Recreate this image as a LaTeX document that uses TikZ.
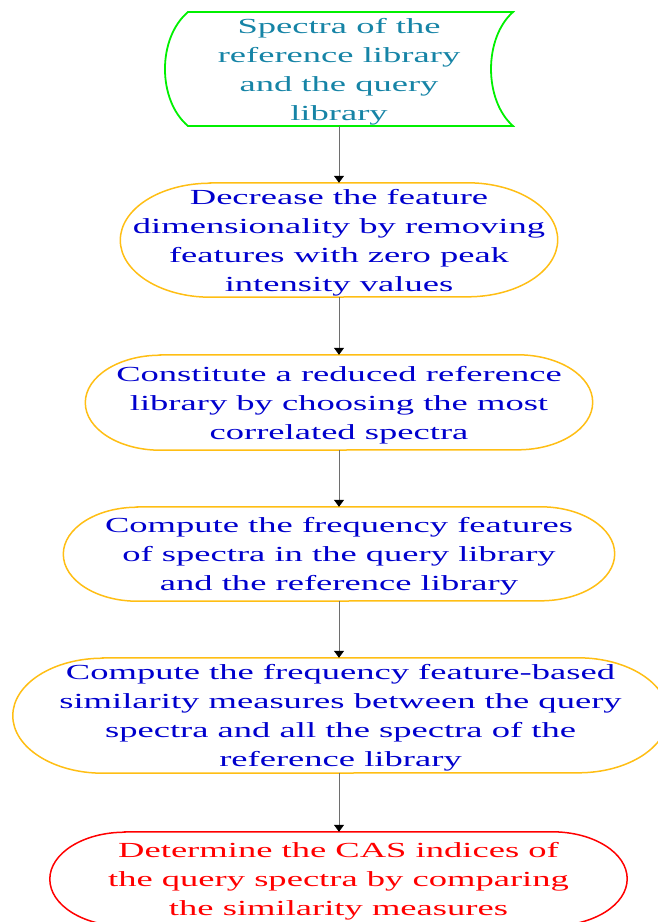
\documentclass[tikz,border=0pt]{standalone}
\usepackage{fontspec}
\setmainfont{Liberation Serif}[FakeStretch=1.7]
\usetikzlibrary{arrows.meta}
\definecolor{srcgreen}{RGB}{0,240,0}
\definecolor{srctext}{RGB}{22,132,166}
\definecolor{boxorange}{RGB}{255,190,20}
\definecolor{txtblue}{RGB}{0,0,205}
\definecolor{endred}{RGB}{255,0,0}
\definecolor{linegray}{RGB}{110,110,110}
% terminal-like outline with elliptical ends round node #1
% #2 = horizontal radius of the ends, #3 = vertical radius, #4 = draw options
\newcommand{\pillframe}[4]{%
  \draw[#4] ([xshift=#2pt]#1.north west) -- ([xshift=-#2pt]#1.north east)
    arc[start angle=90,end angle=-90,x radius=#2pt,y radius=#3pt]
    -- ([xshift=#2pt]#1.south west)
    arc[start angle=270,end angle=90,x radius=#2pt,y radius=#3pt] -- cycle;}
\begin{document}
\begin{tikzpicture}[x=1pt,y=-1pt,
  every node/.style={font=\fontsize{21.5}{29}\selectfont, align=center, inner sep=0pt},
  frame/.style={rectangle, minimum width=#1},
  steptext/.style={text=txtblue},
  orangeline/.style={draw=boxorange, line width=1.5pt},
  redline/.style={draw=endred, line width=1.5pt},
  flow/.style={draw=linegray, line width=0.8pt,
    -{Triangle[width=10pt,length=7pt,color=black]}}]
\useasboundingbox (0,0) rectangle (658,922);

% stored-data shape for the input spectra
\draw[srcgreen, line width=1.8pt]
  (188,12) -- (513,12)
  .. controls (483.7,38) and (483.7,100) .. (513,126)
  -- (188,126)
  .. controls (157.3,100) and (157.3,38) .. (188,12) -- cycle;
\node[frame=325pt, minimum height=114pt] (src) at (339,69) {};
\node[text=srctext] (src-t) at (339,71.5)
  {Spectra of the\\reference library\\and the query\\library};

% processing steps
\node[frame=437pt, minimum height=114pt] (reduce) at (339,240) {};
\node[steptext] (reduce-t) at (339,242.5)
  {Decrease the feature\\dimensionality by removing\\features with zero peak\\intensity values};
\pillframe{reduce}{90}{57}{orangeline}

\node[frame=507pt, minimum height=95pt] (library) at (339,402.5) {};
\node[steptext] (library-t) at (339,405)
  {Constitute a reduced reference\\library by choosing the most\\correlated spectra};
\pillframe{library}{75}{47.5}{orangeline}

\node[frame=551pt, minimum height=94pt] (freq) at (339,554) {};
\node[steptext] (freq-t) at (339,556.5)
  {Compute the frequency features\\of spectra in the query library\\and the reference library};
\pillframe{freq}{74}{47}{orangeline}

\node[frame=655pt, minimum height=115pt] (sim) at (340.5,715.5) {};
\node[steptext] (sim-t) at (340.5,718)
  {Compute the frequency feature-based\\similarity measures between the query\\spectra and all the spectra of the\\reference library};
\pillframe{sim}{90}{57.5}{orangeline}

\node[frame=577pt, minimum height=94pt] (cas) at (338.5,879) {};
\node[text=endred] (cas-t) at (338.5,881.5)
  {Determine the CAS indices of\\the query spectra by comparing\\the similarity measures};
\pillframe{cas}{75}{47}{redline}

% connectors
\draw[flow] (src.south) -- (reduce.north);
\draw[flow] (reduce.south) -- (library.north);
\draw[flow] (library.south) -- (freq.north);
\draw[flow] (freq.south) -- (freq.south |- sim.north);
\draw[flow] (freq.south |- sim.south) -- (freq.south |- cas.north);
\end{tikzpicture}
\end{document}
